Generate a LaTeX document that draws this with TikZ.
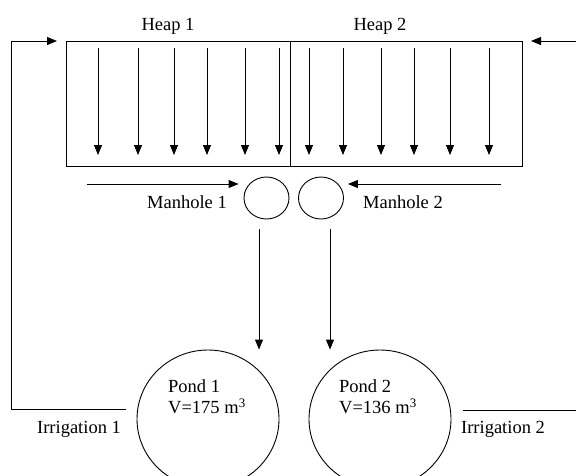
\documentclass[tikz,border=0pt]{standalone}
\usepackage{fontspec}
\setmainfont{Liberation Serif}
\usetikzlibrary{arrows.meta,shapes.geometric}

\tikzset{
  flow/.style={line width=0.9pt, -{Triangle[length=10pt,width=8pt]}},
  plain/.style={line width=0.9pt},
  heapbox/.style={draw, line width=0.9pt, minimum height=125pt, inner sep=0pt},
  manhole/.style={ellipse, draw, line width=0.9pt, minimum width=45pt, minimum height=42pt, inner sep=0pt},
  pond/.style={ellipse, draw, line width=0.9pt, minimum width=142pt, minimum height=138pt, inner sep=0pt},
  lbl/.style={anchor=base, inner sep=0pt},
}

\begin{document}
\begin{tikzpicture}
[x=1pt, y=-1pt, every node/.style={font=\fontsize{18.5}{21}\selectfont}]
\useasboundingbox (0,0) rectangle (576,475);
% heaps
\node (heap1) [heapbox, minimum width=224pt] at (178,103.5) {};
\node (heap2) [heapbox, minimum width=232pt] at (406,103.5) {};
\node (heap1lbl) [lbl] at (168,30) {Heap 1};
\node (heap2lbl) [lbl] at (380,30) {Heap 2};
\foreach \x [count=\i] in {98,138,174,207,245,279,309,343,381,414,450,489} {
  \coordinate (top\i) at (\x,48);
  \coordinate (bot\i) at (\x,155);
  \draw [flow] (top\i) -- (bot\i);
}
% manholes
\node (mh1) [manhole] at (266.5,198) {};
\node (mh2) [manhole] at (321,198) {};
\node (mh1lbl) [lbl] at (187,208) {Manhole 1};
\node (mh2lbl) [lbl] at (403,208) {Manhole 2};
\coordinate (in1) at (87,184);
\coordinate (in2) at (501,184);
\coordinate (mh1in) at ([xshift=-5pt]mh1.west);
\coordinate (mh2in) at ([xshift=4pt]mh2.east);
\draw [flow] (in1) -- (mh1in |- in1);
\draw [flow] (in2) -- (mh2in |- in2);
% ponds
\node (pond1) [pond] at (208,419) {};
\node (pond2) [pond] at (380,419) {};
\node (pond1txt) [align=left, anchor=north west, inner sep=0pt] at (168,379.5) {Pond 1\\V=175 m\textsuperscript{3}};
\node (pond2txt) [align=left, anchor=north west, inner sep=0pt] at (339,379.5) {Pond 2\\V=136 m\textsuperscript{3}};
\coordinate (drop1) at (259,229);
\coordinate (drop2) at (330,229);
\draw [flow] (drop1) -- (drop1 |- pond1.north);
\draw [flow] (drop2) -- (drop2 |- pond2.north);
% irrigation
\coordinate (irr1) at (126,409);
\coordinate (loopL) at (11,41);
\coordinate (feed1) at (57,41);
\draw [flow] (irr1) -| (loopL) -- (feed1);
\coordinate (irr2) at (463,410);
\coordinate (irr2end) at (576,410);
\draw [plain] (irr2) -- (irr2end);
\coordinate (feedR) at (576,41);
\coordinate (feed2) at (531,41);
\draw [flow] (feedR) -- (feed2);
\node (irr1lbl) [lbl] at (79,433) {Irrigation 1};
\node (irr2lbl) [lbl] at (503,433) {Irrigation 2};
\end{tikzpicture}
\end{document}
